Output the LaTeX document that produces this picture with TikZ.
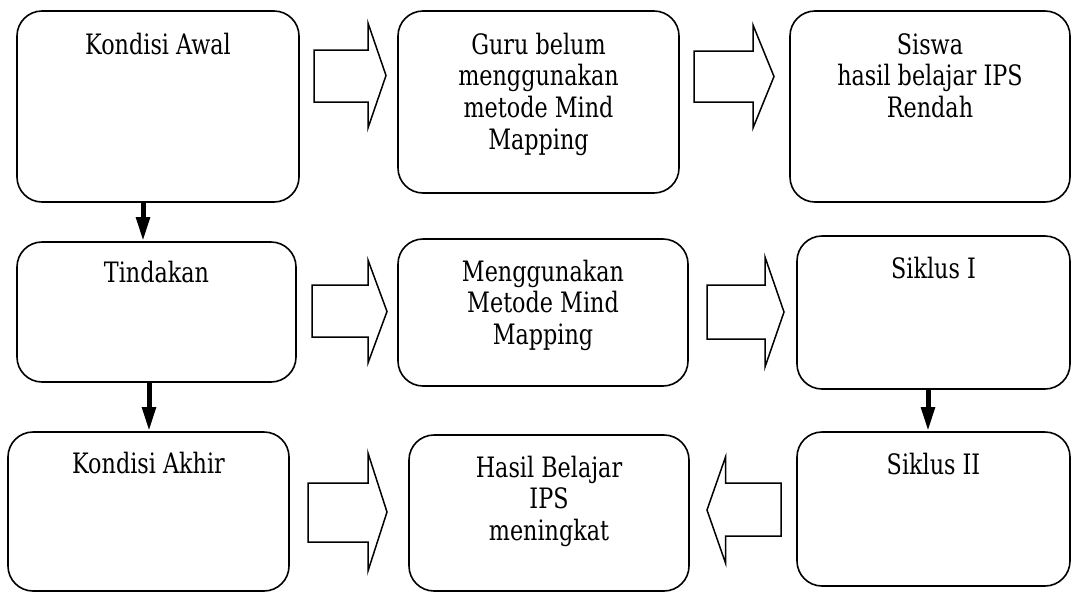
\documentclass[tikz,border=0pt]{standalone}
\usepackage{fontspec}
\setmainfont{DejaVu Serif}
\usetikzlibrary{arrows.meta}
\newcommand\txt[1]{\scalebox{1}[1.26]{\begin{tabular}[t]{@{}c@{}}#1\end{tabular}}}
\newcommand\blockR[7]{% x0 xbase xtip ys0 ys1 yh0 yh1
  \draw[blk] (#1,#4) -- (#2,#4) -- (#2,#6) -- (#3,{(#6+#7)/2}) -- (#2,#7) -- (#2,#5) -- (#1,#5) -- cycle;}
\begin{document}
\begin{tikzpicture}[x=1pt,y=-1pt,
  box/.style={draw, line width=1.6pt, rounded corners=25pt, inner sep=0pt},
  lbl/.style={anchor=base, inner sep=0pt, font=\fontsize{22.3}{25.2}\selectfont},
  blk/.style={draw, line width=1.5pt, line join=miter, miter limit=20},
  down/.style={line width=5pt, -{Triangle[width=13pt,length=24pt]}}]
\useasboundingbox (0,0) rectangle (1071,592);
% boxes
\node[box, minimum width=282pt, minimum height=191pt] (b1) at (158,106.5) {};
\node[box, minimum width=281pt, minimum height=182pt] (b2) at (538.5,102) {};
\node[box, minimum width=280pt, minimum height=191pt] (b3) at (930,106.5) {};
\node[box, minimum width=279pt, minimum height=140pt] (b4) at (156.5,312) {};
\node[box, minimum width=290pt, minimum height=147pt] (b5) at (543,312.5) {};
\node[box, minimum width=273pt, minimum height=153pt] (b6) at (933.5,312.5) {};
\node[box, minimum width=273pt, minimum height=154pt] (b7) at (933.5,509) {};
\node[box, minimum width=281pt, minimum height=159pt] (b8) at (148.5,511.5) {};
\node[box, minimum width=280pt, minimum height=156pt] (b9) at (549,513) {};
% labels
\node[lbl] (t1) at ([yshift=-44pt]b1.north) {\txt{Kondisi Awal}};
\node[lbl] (t2) at ([yshift=-44pt]b2.north) {\txt{Guru belum\\menggunakan\\metode Mind\\Mapping}};
\node[lbl] (t3) at ([yshift=-44pt]b3.north) {\txt{Siswa\\hasil belajar IPS\\Rendah}};
\node[lbl] (t4) at ([yshift=-41pt]b4.north) {\txt{Tindakan}};
\node[lbl] (t5) at ([yshift=-43pt]b5.north) {\txt{Menggunakan\\Metode Mind\\Mapping}};
\node[lbl] (t6) at ([yshift=-43pt]b6.north) {\txt{Siklus I}};
\node[lbl] (t7) at ([yshift=-43pt]b7.north) {\txt{Siklus II}};
\node[lbl] (t8) at ([yshift=-42pt]b8.north) {\txt{Kondisi Akhir}};
\node[lbl] (t9) at ([yshift=-43pt]b9.north) {\txt{Hasil Belajar\\IPS\\meningkat}};
% vertical arrows
\draw[down] ([xshift=-15pt]b1.south) -- ([xshift=-13.5pt]b4.north);
\draw[down] ([xshift=-7.5pt]b4.south) -- ([xshift=0.5pt]b8.north);
\draw[down] ([xshift=-5.5pt]b6.south) -- ([xshift=-5.5pt]b7.north);
% block arrows
\blockR{314}{368}{386}{50}{102}{23}{128}
\blockR{694}{753}{774}{51}{102}{25}{128}
\blockR{312}{368}{387}{285}{337}{260}{363}
\blockR{707}{765}{784}{285}{339}{257}{367}
\blockR{308}{368}{387}{483}{542}{453}{571}
\blockR{781}{725.5}{707}{483}{536}{457}{563}
\end{tikzpicture}
\end{document}
